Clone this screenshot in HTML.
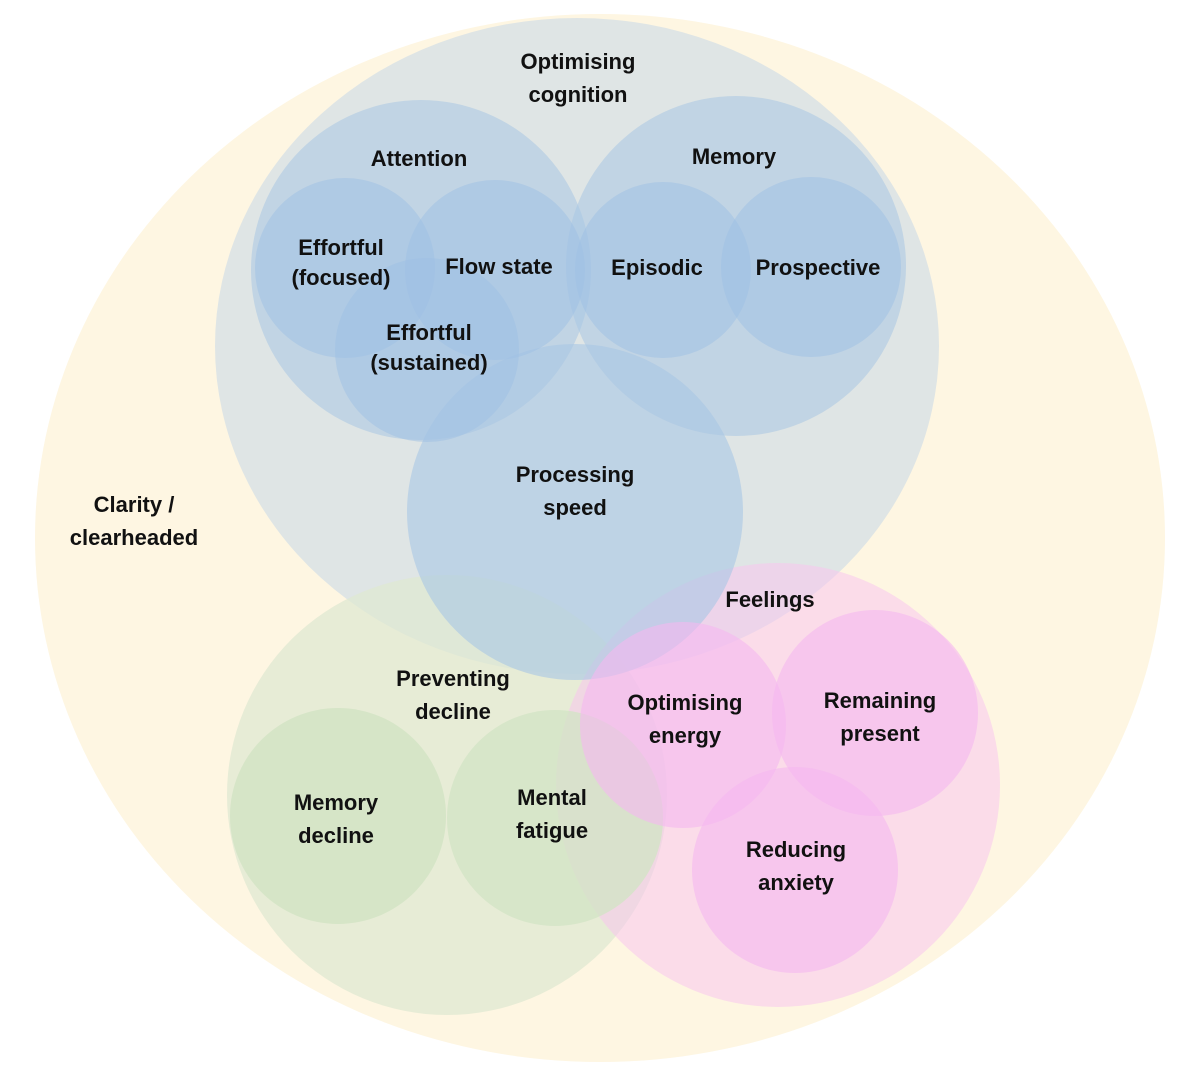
<!DOCTYPE html>
<html><head><meta charset="utf-8"><style>
html,body{margin:0;padding:0;background:#fff;}
svg text{font-family:"Liberation Sans",sans-serif;font-weight:bold;font-size:22px;fill:#111;text-anchor:middle;}
</style></head><body>
<svg width="1200" height="1064" viewBox="0 0 1200 1064" xmlns="http://www.w3.org/2000/svg">
<ellipse cx="600" cy="538" rx="565" ry="524" fill="#fef6e2"/>
<ellipse cx="577" cy="346" rx="362" ry="328" fill="#c9dbe8" fill-opacity="0.6"/>
<circle cx="447" cy="795" r="220" fill="#dfe8d2" fill-opacity="0.75"/>
<circle cx="778" cy="785" r="222" fill="#f7c7ef" fill-opacity="0.55"/>
<circle cx="421" cy="270" r="170" fill="#a8c6e4" fill-opacity="0.55"/>
<circle cx="736" cy="266" r="170" fill="#a8c6e4" fill-opacity="0.55"/>
<circle cx="575" cy="512" r="168" fill="#a8c6e4" fill-opacity="0.6"/>
<circle cx="345" cy="268" r="90" fill="#9dc0e4" fill-opacity="0.5"/>
<circle cx="495" cy="270" r="90" fill="#9dc0e4" fill-opacity="0.5"/>
<circle cx="427" cy="350" r="92" fill="#9dc0e4" fill-opacity="0.5"/>
<circle cx="663" cy="270" r="88" fill="#9dc0e4" fill-opacity="0.5"/>
<circle cx="811" cy="267" r="90" fill="#9dc0e4" fill-opacity="0.5"/>
<circle cx="338" cy="816" r="108" fill="#d2e4c4" fill-opacity="0.85"/>
<circle cx="555" cy="818" r="108" fill="#d2e4c4" fill-opacity="0.75"/>
<circle cx="683" cy="725" r="103" fill="#f5b8f0" fill-opacity="0.6"/>
<circle cx="875" cy="713" r="103" fill="#f5b8f0" fill-opacity="0.6"/>
<circle cx="795" cy="870" r="103" fill="#f5b8f0" fill-opacity="0.6"/>
<text x="578" y="69">Optimising</text><text x="578" y="102">cognition</text>
<text x="419" y="166">Attention</text>
<text x="734" y="164">Memory</text>
<text x="341" y="255" font-size="20">Effortful</text><text x="341" y="285" font-size="20">(focused)</text>
<text x="499" y="274" font-size="20">Flow state</text>
<text x="429" y="340" font-size="20">Effortful</text><text x="429" y="370" font-size="20">(sustained)</text>
<text x="657" y="275" font-size="20">Episodic</text>
<text x="818" y="275" font-size="20">Prospective</text>
<text x="575" y="482">Processing</text><text x="575" y="515">speed</text>
<text x="134" y="512">Clarity /</text><text x="134" y="545">clearheaded</text>
<text x="770" y="607">Feelings</text>
<text x="453" y="686">Preventing</text><text x="453" y="719">decline</text>
<text x="685" y="710">Optimising</text><text x="685" y="743">energy</text>
<text x="880" y="708">Remaining</text><text x="880" y="741">present</text>
<text x="336" y="810">Memory</text><text x="336" y="843">decline</text>
<text x="552" y="805">Mental</text><text x="552" y="838">fatigue</text>
<text x="796" y="857">Reducing</text><text x="796" y="890">anxiety</text>
</svg>
</body></html>
